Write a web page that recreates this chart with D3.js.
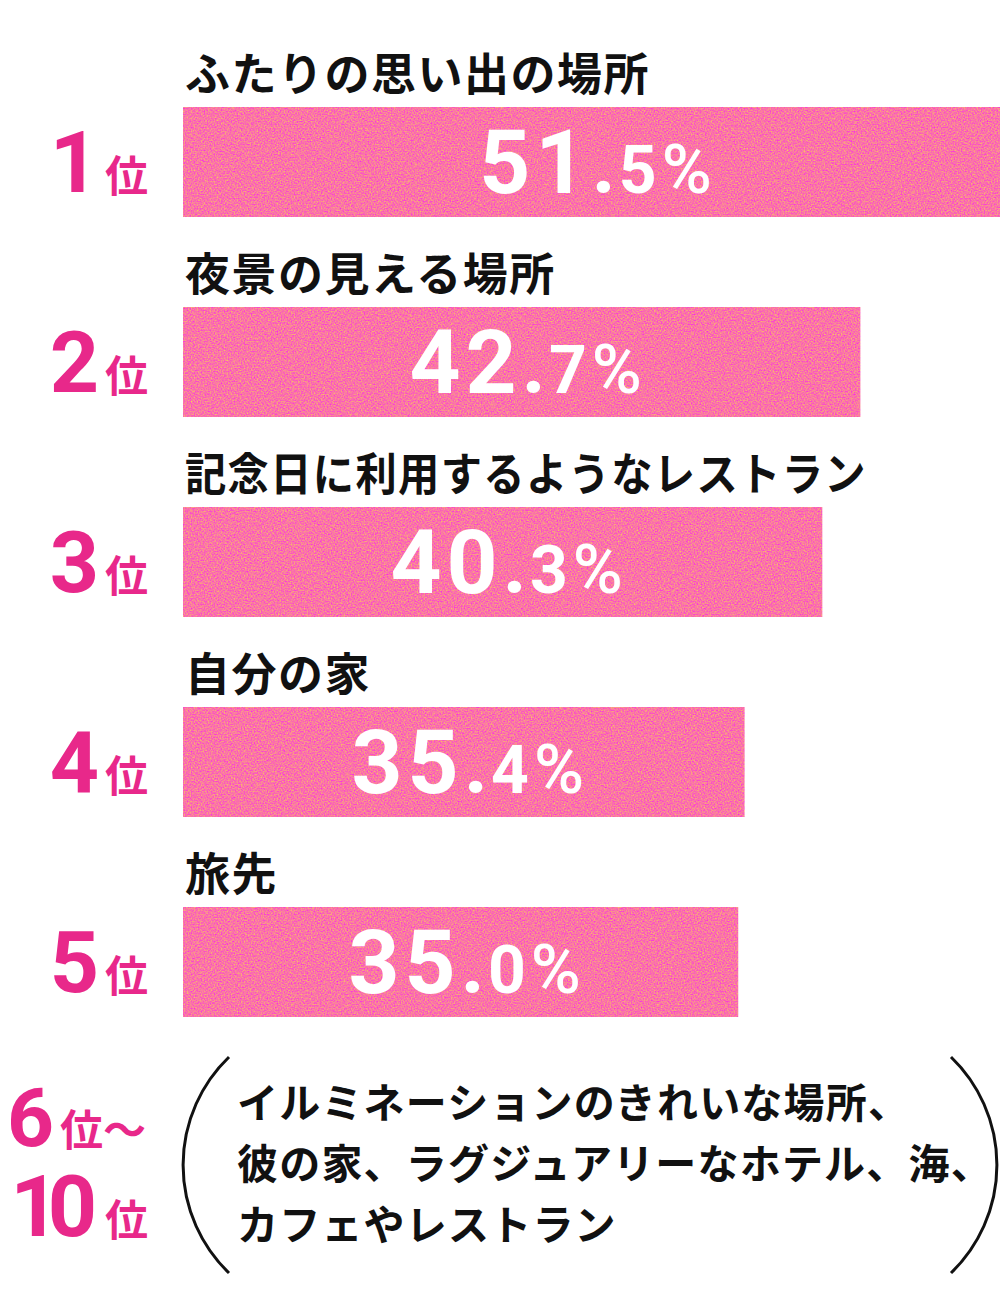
<!DOCTYPE html>
<html><head><meta charset="utf-8">
<script src="https://cdn.jsdelivr.net/npm/d3@7"></script>
<style>body{margin:0;background:#fff}svg{display:block}</style>
</head><body>
<svg id="c" width="1000" height="1300"></svg>
<script>
// ---- data ----
const ranks = ["1", "2", "3", "4", "5"];
const categories = ["ふたりの思い出の場所", "夜景の見える場所", "記念日に利用するようなレストラン", "自分の家", "旅先"];
const values = [51.5, 42.7, 40.3, 35.4, 35.0];
const restRank = ["6", "10"];
const restLines = ["イルミネーションのきれいな場所、", "彼の家、ラグジュアリーなホテル、海、", "カフェやレストラン"];
const rankSuffix = "位";

// ---- style / layout ----
const pink = "#E8288A";
const jp = "'Noto Sans CJK JP', sans-serif";
const num = "Roboto, 'Liberation Sans', sans-serif";

const svg = d3.select("#c");
const defs = svg.append("defs");
const f = defs.append("filter").attr("id", "grain")
  .attr("x", 0).attr("y", 0).attr("width", 1).attr("height", 1)
  .attr("color-interpolation-filters", "sRGB");
f.append("feTurbulence").attr("type", "fractalNoise").attr("baseFrequency", 0.7)
  .attr("numOctaves", 2).attr("seed", 7).attr("result", "n");
f.append("feColorMatrix").attr("in", "n").attr("type", "matrix")
  .attr("values", "0 0 0 0 0.98  0.8 0 0 0 0.06  -0.7 0 0 0 1.0  0 0 0 0 1").attr("result", "c");
f.append("feComposite").attr("in", "c").attr("in2", "SourceGraphic").attr("operator", "in");

const x = d3.scaleLinear().domain([0, d3.max(values)]).range([183, 1000]);
const y = d3.scaleBand().domain(categories).range([107, 1017]).paddingInner(0.45).paddingOuter(0).align(0);

const g = svg.append("g");
const rows = g.selectAll("g.row").data(categories).join("g").attr("class", "row");

rows.append("rect")
  .attr("x", x(0)).attr("y", d => y(d))
  .attr("width", (d, i) => x(values[i]) - x(0)).attr("height", y.bandwidth())
  .attr("fill", "#F5659C").attr("filter", "url(#grain)");

// category labels
rows.append("text")
  .attr("x", x(0) + 2).attr("y", d => y(d) - 16)
  .attr("font-family", jp).attr("font-weight", 700).attr("font-size", 45)
  .attr("letter-spacing", 1.5).attr("fill", "#111")
  .text(d => d)
  .each(function () {
    const w = this.getComputedTextLength();
    if (w > 690) d3.select(this).attr("textLength", 682).attr("lengthAdjust", "spacingAndGlyphs");
  });

// rank labels
const rk = rows.append("text")
  .attr("x", 148).attr("y", d => y(d) + 85)
  .attr("text-anchor", "end").attr("fill", pink)
  .attr("font-family", num).attr("font-weight", 700);
rk.append("tspan").attr("font-size", 86).text((d, i) => ranks[i]);
rk.append("tspan").attr("font-size", 43).attr("font-family", jp).attr("dx", 6).text(rankSuffix);

// value labels
const vl = rows.append("text")
  .attr("x", (d, i) => (x(0) + x(values[i])) / 2 + 4).attr("y", d => y(d) + 86)
  .attr("text-anchor", "middle").attr("fill", "#fff")
  .attr("font-family", num).attr("font-weight", 700);
vl.append("tspan").attr("font-size", 89).attr("letter-spacing", 5).text((d, i) => Math.floor(values[i]));
vl.append("tspan").attr("font-size", 84).attr("letter-spacing", 3).text(".");
vl.append("tspan").attr("font-size", 66).attr("letter-spacing", 5).text((d, i) => values[i].toFixed(1).split(".")[1]);
vl.append("tspan").attr("font-size", 68).attr("font-weight", 500).text("%");

// 6位〜10位
const r1 = g.append("text").attr("x", 146).attr("y", 1146).attr("text-anchor", "end")
  .attr("fill", pink).attr("font-family", num).attr("font-weight", 700);
r1.append("tspan").attr("font-size", 82).text(restRank[0]);
r1.append("tspan").attr("font-size", 43).attr("font-family", jp).attr("dx", 6).text(rankSuffix + "〜");
const r2 = g.append("text").attr("x", 148).attr("y", 1236).attr("text-anchor", "end")
  .attr("fill", pink).attr("font-family", num).attr("font-weight", 700);
r2.append("tspan").attr("font-size", 86).attr("letter-spacing", -12).text(restRank[1]);
r2.append("tspan").attr("font-size", 43).attr("font-family", jp).attr("dx", 20).text(rankSuffix);

// parentheses
g.append("path").attr("d", "M229,1057 A150,150 0 0 0 229,1273")
  .attr("fill", "none").attr("stroke", "#111").attr("stroke-width", 3);
g.append("path").attr("d", "M951,1057 A150,150 0 0 1 951,1273")
  .attr("fill", "none").attr("stroke", "#111").attr("stroke-width", 3);

g.selectAll("text.rest").data(restLines).join("text").attr("class", "rest")
  .attr("x", 237).attr("y", (d, i) => 1118 + i * 61)
  .attr("font-family", jp).attr("font-weight", 700).attr("font-size", 41)
  .attr("letter-spacing", 1.2).attr("fill", "#111").text(d => d);
</script>
</body></html>
